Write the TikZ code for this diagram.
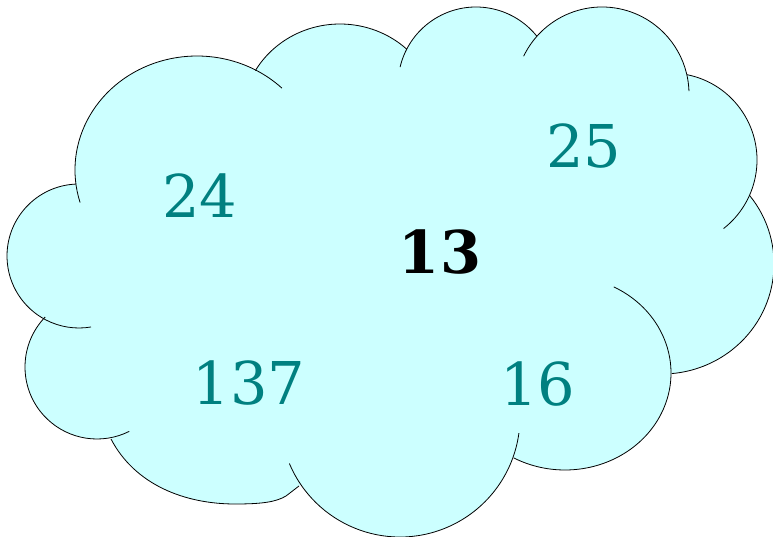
\documentclass[tikz,border=0pt]{standalone}
\usepackage{fontspec}
\setmainfont{DejaVu Serif}
\usetikzlibrary{calc}
\definecolor{cloudfill}{HTML}{CCFFFF}
\definecolor{numteal}{HTML}{008080}
\tikzset{
  lobe/.style n args={6}{insert path={($(#1,#2)+(#5:#3pt and #4pt)$) arc[start angle=#5,end angle=#6,x radius=#3pt,y radius=#4pt]}},
  lobeto/.style n args={6}{insert path={-- ($(#1,#2)+(#5:#3pt and #4pt)$) arc[start angle=#5,end angle=#6,x radius=#3pt,y radius=#4pt]}},
  outline/.style={draw=black,line width=0.8pt},
  num/.style={text=numteal,font=\fontsize{59}{70}\selectfont,inner sep=0pt,anchor=base},
  centre/.style={text=black,font=\fontsize{59}{70}\selectfont\bfseries,inner sep=0pt,anchor=base}
}
\begin{document}
\begin{tikzpicture}[x=1pt,y=1pt]
\useasboundingbox (0,0) rectangle (773,536);
% filled body of the cloud
\path[fill=cloudfill]
  [lobe={197}{366}{122}{114}{186.6}{60.9}]
  [lobeto={340}{418}{98}{94}{149.7}{47}]
  [lobeto={476}{451}{78}{78}{153}{38.8}]
  [lobeto={602}{442}{87}{87}{138.3}{12.6}]
  [lobeto={670}{376}{87}{87}{78.7}{-24.5}]
  [lobeto={662}{272}{112}{110}{38.5}{-85}]
  [lobeto={565}{163}{106}{97}{-0.6}{-119}]
  [lobeto={400}{119}{120}{120}{-19.3}{-145.7}]
  -- (299,50) -- (286,40) .. controls (276,34) and (262,32) .. (235,32)
  .. controls (185,32) and (135,51) .. (111,97)
  [lobeto={97}{169}{72}{72}{-79}{-224}]
  [lobeto={79}{280}{72}{72}{241}{92.4}]
  -- cycle;
% outline of the lobes with their inner tails
\draw[outline] [lobe={197}{366}{122}{114}{196.6}{45.9}];
\draw[outline] [lobe={340}{418}{98}{94}{149.7}{47}];
\draw[outline] [lobe={476}{451}{78}{78}{166.7}{38.8}];
\draw[outline] [lobe={602}{442}{87}{87}{154.3}{1.9}];
\draw[outline] [lobe={670}{376}{87}{87}{78.7}{-52}];
\draw[outline] [lobe={662}{272}{112}{110}{38.5}{-85}];
\draw[outline] [lobe={565}{163}{106}{97}{62.6}{-119}];
\draw[outline] [lobe={400}{119}{120}{120}{202.8}{352.3}];
\draw[outline] (299,50) -- (286,40) .. controls (276,34) and (262,32) .. (235,32)
  .. controls (185,32) and (135,51) .. (111,97);
\draw[outline] [lobe={97}{169}{72}{72}{136}{296.6}];
\draw[outline] [lobe={79}{280}{72}{72}{92.4}{279.6}];
% numbers
\node[num] (n24) at (200,318) {24};
\node[num] (n25) at (584,368) {25};
\node[centre] (n13) at (440,262) {13};
\node[num] (n137) at (249,132) {137};
\node[num] (n16) at (538,131) {16};
\end{tikzpicture}
\end{document}
